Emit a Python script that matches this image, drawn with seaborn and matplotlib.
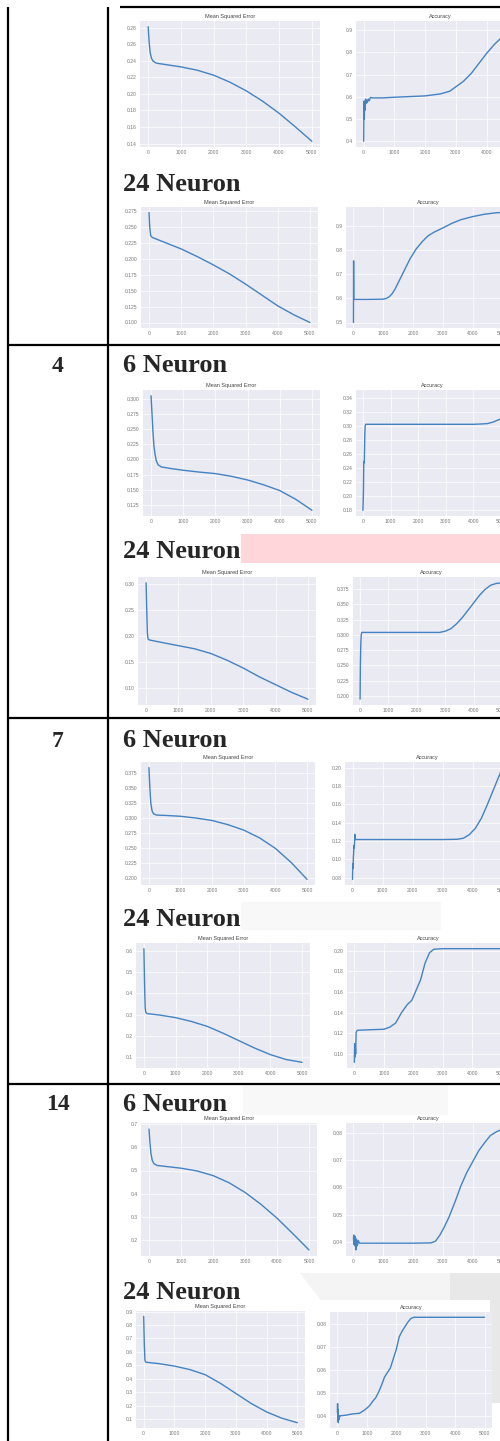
import matplotlib
matplotlib.use("Agg")
import matplotlib.pyplot as plt
import seaborn as sns
from matplotlib.patches import Rectangle, Polygon

# ---------------- data ----------------
# block A (first, heading cut off)
a_mse_epoch = [0, 30, 60, 100, 150, 250, 500, 1000, 1500, 2000, 2500, 3000, 3500, 4000, 4500, 5000]
a_mse = [0.281, 0.262, 0.250, 0.243, 0.2395, 0.237, 0.2355, 0.2325, 0.2285, 0.2225, 0.2140, 0.2035, 0.1910, 0.1765, 0.1600, 0.1427]
a_acc_epoch = [0, 10, 20, 30, 45, 60, 80, 100, 120, 150, 180, 220, 300, 600, 1000, 1500, 2000, 2500, 2800, 3000, 3250, 3500, 3750, 4000, 4250, 4500, 4750, 5000]
a_acc = [0.40, 0.58, 0.50, 0.58, 0.54, 0.59, 0.57, 0.585, 0.575, 0.59, 0.582, 0.597, 0.595, 0.595, 0.598, 0.601, 0.604, 0.613, 0.625, 0.645, 0.67, 0.705, 0.75, 0.795, 0.835, 0.868, 0.895, 0.915]

# block B (24 Neuron)
b_mse_epoch = [0, 20, 50, 100, 500, 1000, 1500, 2000, 2500, 3000, 3500, 4000, 4500, 5000]
b_mse = [0.272, 0.250, 0.236, 0.233, 0.225, 0.215, 0.203, 0.190, 0.176, 0.160, 0.143, 0.126, 0.112, 0.100]
b_acc_epoch = [0, 5, 12, 500, 1000, 1100, 1200, 1300, 1400, 1500, 1700, 1900, 2100, 2300, 2500, 2700, 3000, 3300, 3600, 4000, 4400, 4800, 5000]
b_acc = [0.50, 0.756, 0.596, 0.596, 0.597, 0.600, 0.607, 0.620, 0.640, 0.665, 0.715, 0.765, 0.805, 0.835, 0.860, 0.875, 0.893, 0.912, 0.927, 0.940, 0.950, 0.956, 0.957]

# block C (row 4, 6 Neuron)
c_mse_epoch = [0, 30, 60, 90, 120, 160, 220, 320, 600, 1000, 1500, 2000, 2500, 3000, 3500, 4000, 4500, 5000]
c_mse = [0.305, 0.275, 0.245, 0.222, 0.210, 0.198, 0.191, 0.1875, 0.185, 0.182, 0.179, 0.1765, 0.172, 0.166, 0.158, 0.1485, 0.134, 0.116]
c_acc_epoch = [0, 10, 20, 30, 40, 50, 60, 70, 80, 100, 150, 1000, 2000, 3000, 4000, 4300, 4500, 4700, 5000]
c_acc = [0.18, 0.192, 0.21, 0.245, 0.25, 0.248, 0.27, 0.29, 0.30, 0.303, 0.303, 0.303, 0.303, 0.303, 0.303, 0.3035, 0.304, 0.306, 0.311]

# block D (row 4, 24 Neuron)
d_mse_epoch = [0, 20, 40, 60, 100, 500, 1000, 1500, 2000, 2500, 3000, 3500, 4000, 4500, 5000]
d_mse = [0.302, 0.25, 0.205, 0.194, 0.192, 0.187, 0.181, 0.175, 0.166, 0.153, 0.138, 0.121, 0.106, 0.091, 0.078]
d_acc_epoch = [0, 10, 25, 40, 60, 100, 1000, 2000, 2800, 3000, 3200, 3400, 3600, 3800, 4000, 4200, 4400, 4600, 4800, 5000]
d_acc = [0.195, 0.25, 0.285, 0.300, 0.304, 0.304, 0.304, 0.304, 0.304, 0.306, 0.310, 0.318, 0.328, 0.340, 0.352, 0.364, 0.374, 0.381, 0.384, 0.385]

# block E (row 7, 6 Neuron)
e_mse_epoch = [0, 30, 60, 100, 150, 250, 500, 1000, 1500, 2000, 2500, 3000, 3500, 4000, 4500, 5000]
e_mse = [0.384, 0.35, 0.325, 0.312, 0.307, 0.305, 0.3045, 0.303, 0.300, 0.296, 0.289, 0.280, 0.267, 0.2495, 0.226, 0.198]
e_acc_epoch = [0, 10, 20, 30, 40, 50, 60, 70, 80, 100, 150, 1000, 2000, 3000, 3500, 3700, 3900, 4100, 4300, 4500, 4700, 4900, 5000]
e_acc = [0.078, 0.095, 0.09, 0.103, 0.108, 0.115, 0.112, 0.12, 0.127, 0.1215, 0.1215, 0.1215, 0.1215, 0.1215, 0.1218, 0.123, 0.127, 0.134, 0.145, 0.160, 0.176, 0.192, 0.200]

# block F (row 7, 24 Neuron)
f_mse_epoch = [0, 20, 40, 60, 100, 500, 1000, 1500, 2000, 2500, 3000, 3500, 4000, 4500, 5000]
f_mse = [0.61, 0.45, 0.33, 0.31, 0.305, 0.298, 0.286, 0.268, 0.245, 0.213, 0.178, 0.143, 0.112, 0.089, 0.076]
f_acc_epoch = [0, 10, 20, 30, 45, 60, 100, 500, 1000, 1200, 1400, 1600, 1800, 1950, 2100, 2250, 2400, 2550, 2700, 3000, 4000, 5000]
f_acc = [0.092, 0.110, 0.097, 0.108, 0.100, 0.121, 0.123, 0.1235, 0.124, 0.126, 0.130, 0.140, 0.148, 0.152, 0.162, 0.172, 0.188, 0.198, 0.2015, 0.202, 0.202, 0.202]

# block G (row 14, 6 Neuron)
g_mse_epoch = [0, 30, 60, 100, 150, 250, 500, 1000, 1500, 2000, 2500, 3000, 3500, 4000, 4500, 5000]
g_mse = [0.68, 0.62, 0.575, 0.545, 0.53, 0.522, 0.518, 0.510, 0.498, 0.478, 0.447, 0.405, 0.353, 0.293, 0.225, 0.155]
g_acc_epoch = [0, 10, 20, 30, 45, 60, 80, 100, 130, 160, 200, 300, 1000, 2000, 2600, 2750, 2900, 3050, 3200, 3400, 3600, 3800, 4000, 4200, 4400, 4600, 4800, 5000]
g_acc = [0.041, 0.0425, 0.039, 0.0415, 0.0385, 0.042, 0.037, 0.041, 0.0385, 0.0405, 0.0395, 0.0395, 0.0395, 0.0395, 0.0396, 0.0402, 0.0425, 0.0455, 0.049, 0.0545, 0.0605, 0.0655, 0.0695, 0.0735, 0.0765, 0.0792, 0.0805, 0.0815]

# block H (row 14, 24 Neuron)
h_mse_epoch = [0, 20, 40, 60, 100, 500, 1000, 1500, 2000, 2500, 3000, 3500, 4000, 4500, 5000]
h_mse = [0.865, 0.66, 0.54, 0.525, 0.522, 0.512, 0.494, 0.468, 0.43, 0.365, 0.29, 0.215, 0.152, 0.105, 0.072]
h_acc_epoch = [0, 8, 16, 24, 32, 40, 50, 60, 80, 100, 300, 500, 750, 900, 1000, 1100, 1200, 1300, 1400, 1500, 1600, 1700, 1800, 1900, 2000, 2100, 2200, 2300, 2400, 2500, 2600, 3000, 4000, 5000]
h_acc = [0.0418, 0.0455, 0.038, 0.043, 0.0372, 0.0405, 0.0385, 0.040, 0.0398, 0.0402, 0.0405, 0.041, 0.0413, 0.0425, 0.0435, 0.0447, 0.0465, 0.048, 0.0505, 0.0535, 0.057, 0.059, 0.061, 0.065, 0.069, 0.0745, 0.077, 0.079, 0.081, 0.0825, 0.083, 0.083, 0.083, 0.083]

row_labels = ["4", "7", "14"]
headings = ["24 Neuron", "6 Neuron", "24 Neuron", "6 Neuron", "24 Neuron", "6 Neuron", "24 Neuron"]
mse_title = "Mean Squared Error"
acc_title = "Accuracy"

# ---------------- layout (pixels) ----------------
W, H = 500, 1441
panels = [
    # mse box (l, t, r, b), acc box, mse data, acc data, acc ylim
    ((140, 21, 320, 147), (356, 21, 525, 147), (a_mse_epoch, a_mse), (a_acc_epoch, a_acc), None),
    ((141, 207, 318, 328), (346, 207, 510, 328), (b_mse_epoch, b_mse), (b_acc_epoch, b_acc), None),
    ((143, 390, 320, 516), (356, 390, 508, 516), (c_mse_epoch, c_mse), (c_acc_epoch, c_acc), (0.172, 0.352)),
    ((138, 577, 316, 705), (353, 577, 509, 705), (d_mse_epoch, d_mse), (d_acc_epoch, d_acc), None),
    ((141, 762, 315, 885), (345, 762, 510, 885), (e_mse_epoch, e_mse), (e_acc_epoch, e_acc), None),
    ((136, 943, 310, 1068), (347, 943, 509, 1068), (f_mse_epoch, f_mse), (f_acc_epoch, f_acc), None),
    ((141, 1123, 317, 1256), (346, 1123, 510, 1256), (g_mse_epoch, g_mse), (g_acc_epoch, g_acc), None),
    ((136, 1311, 305, 1428), (330, 1312, 492, 1428), (h_mse_epoch, h_mse), (h_acc_epoch, h_acc), None),
]
heading_pos = [(123, 191), (123, 372), (123, 558), (123, 747), (123, 926), (123, 1111), (123, 1299)]
rowlabel_pos = [(58, 372), (58, 747), (58, 1110)]

sns.set_theme(style="darkgrid")
plt.rcParams['font.family'] = ['Liberation Sans', 'DejaVu Sans']

fig = plt.figure(figsize=(W / 100, H / 100), dpi=100)
fig.patch.set_facecolor('white')

bg = fig.add_axes([0, 0, 1, 1])
bg.set_xlim(0, W)
bg.set_ylim(H, 0)
bg.axis('off')

# decorative highlight boxes from the scanned page
bg.add_patch(Rectangle((241, 534), 259, 29, facecolor='#ffd6da', edgecolor='none', zorder=1))
bg.add_patch(Rectangle((241, 902), 200, 28, facecolor='#f8f8f8', edgecolor='none', zorder=1))
bg.add_patch(Rectangle((243, 1085), 205, 30, facecolor='#f8f8f8', edgecolor='none', zorder=1))
bg.add_patch(Polygon([(300, 1273), (450, 1273), (450, 1302), (322, 1302)], closed=True,
                     facecolor='#f4f4f4', edgecolor='none', zorder=1))
bg.add_patch(Rectangle((450, 1273), 50, 130, facecolor='#e8e8e8', edgecolor='none', zorder=1))
bg.add_patch(Rectangle((318, 1300), 172, 141, facecolor='white', edgecolor='none', zorder=2))

# table rules
lw = 1.6
bg.plot([8, 8], [7, H], color='black', lw=lw, zorder=3, solid_capstyle='butt')
bg.plot([108, 108], [7, H], color='black', lw=lw, zorder=3, solid_capstyle='butt')
bg.plot([120, W], [7, 7], color='black', lw=lw, zorder=3, solid_capstyle='butt')
for yy in (345, 718, 1084):
    bg.plot([8, W], [yy, yy], color='black', lw=lw, zorder=3, solid_capstyle='butt')

serif = ['Liberation Serif', 'DejaVu Serif']
for (x, y), t in zip(heading_pos, headings):
    bg.text(x, y, t, fontsize=19, fontweight='bold', family=serif, ha='left', va='baseline', zorder=4)
for (x, y), t in zip(rowlabel_pos, row_labels):
    bg.text(x, y, t, fontsize=17, fontweight='bold', family=serif, ha='center', va='baseline', zorder=4)

line_color = '#4482c2'


def add_ax(box):
    l, t, r, b = box
    return fig.add_axes([l / W, 1 - b / H, (r - l) / W, (b - t) / H])


def style(ax, title):
    ax.set_title(title, fontsize=4, pad=2.2, color='#444444')
    ax.tick_params(axis='both', labelsize=3.6, pad=2.5, colors='#777777', length=0)
    ax.grid(True, color='white', linewidth=0.5)
    ax.set_xlabel('')
    ax.set_ylabel('')
    for s in ax.spines.values():
        s.set_visible(False)


for mse_box, acc_box, (mx, my), (ax_x, ax_y), acc_ylim in panels:
    ax1 = add_ax(mse_box)
    sns.lineplot(x=mx, y=my, ax=ax1, color=line_color, linewidth=1.0)
    style(ax1, mse_title)

    ax2 = add_ax(acc_box)
    sns.lineplot(x=ax_x, y=ax_y, ax=ax2, color=line_color, linewidth=1.0)
    if acc_ylim is not None:
        ax2.set_ylim(*acc_ylim)
    style(ax2, acc_title)

fig.savefig('out.png', dpi=100, facecolor='white')
